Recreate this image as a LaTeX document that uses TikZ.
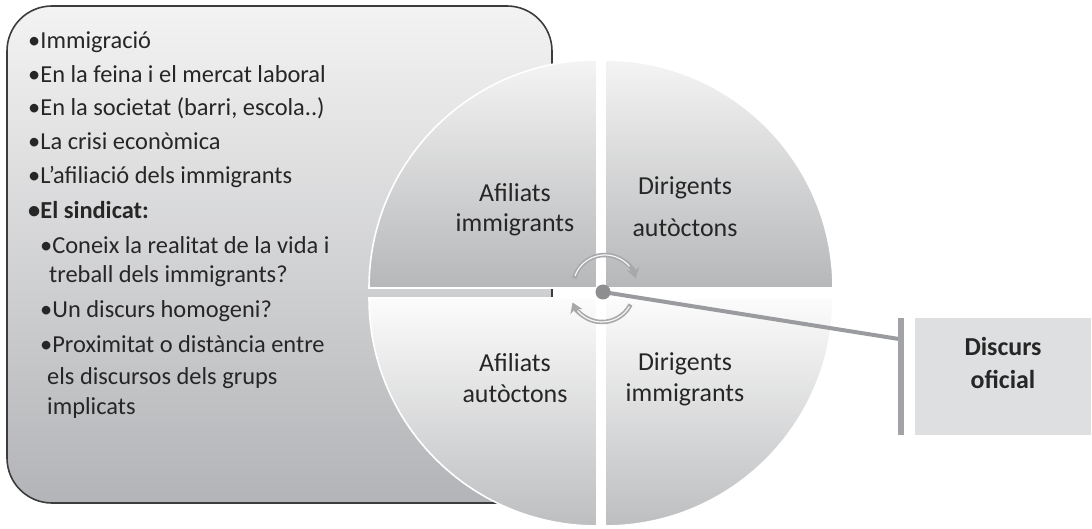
\documentclass[tikz,border=0pt]{standalone}
\usepackage{fontspec}
\setmainfont{Carlito}
\usetikzlibrary{arrows.meta}
\definecolor{txt}{HTML}{262626}
\definecolor{boxtop}{HTML}{F3F3F3}
\definecolor{boxbot}{HTML}{B3B4B7}
\definecolor{boxline}{HTML}{3C3C3C}
\definecolor{qtopA}{HTML}{F4F4F4}
\definecolor{qtopB}{HTML}{B6B7B9}
\definecolor{qbotA}{HTML}{FCFCFC}
\definecolor{qbotB}{HTML}{BDBEC0}
\definecolor{rotc}{HTML}{A8A8AA}
\definecolor{dotc}{HTML}{8E8E90}
\definecolor{connc}{HTML}{9A9B9F}
\definecolor{barc}{HTML}{A2A3A7}
\definecolor{dboxc}{HTML}{DEDFE1}
\tikzset{
  item/.style={anchor=base west, inner sep=0pt, text=txt, font=\fontsize{24.5}{30}\selectfont},
  qlab/.style={anchor=base, inner sep=0pt, text=txt, align=center, font=\fontsize{26}{31}\selectfont},
  dlab/.style={anchor=base, inner sep=0pt, text=txt, align=center, font=\fontsize{26}{33}\selectfont\bfseries},
  rim/.style={draw=white, line width=1.6bp},
  rot/.style={draw=rotc, line width=4.5bp, -{Stealth[length=10bp,width=13bp]}},
  rothl/.style={draw=white, line width=1.2bp, opacity=0.9},
  conn/.style={draw=connc, line width=4bp}
}
\begin{document}
\begin{tikzpicture}[x=1bp,y=-1bp]
\useasboundingbox (0,0) rectangle (1092,529);
% left rounded box
\shade[top color=boxtop, bottom color=boxbot, rounded corners=45bp] (7,6) rectangle (552,503);
\draw[boxline, line width=1.6bp, rounded corners=45bp] (7,6) rectangle (552,503);
% text lines
\node[item] (l1) at (28,49) {•Immigració};
\node[item] (l2) at (28,83) {•En la feina i el mercat laboral};
\node[item] (l3) at (28,116) {•En la societat (barri, escola..)};
\node[item] (l4) at (28,150) {•La crisi econòmica};
\node[item] (l5) at (28,184) {•L'afiliació dels immigrants};
\node[item, font=\fontsize{24.5}{30}\selectfont\bfseries] (l6) at (28,219) {•El sindicat:};
\node[item] (l7) at (40,254) {•Coneix la realitat de la vida i};
\node[item] (l8) at (49,283) {treball dels immigrants?};
\node[item] (l9) at (40,318) {•Un discurs homogeni?};
\node[item] (l10) at (40,353) {•Proximitat o distància entre};
\node[item] (l11) at (47,385) {els discursos dels grups};
\node[item] (l12) at (47,414) {implicats};
% quadrants
\shade[top color=qtopA, bottom color=qtopB] (597,288) -- (369,288) arc[start angle=180, end angle=270, radius=228] -- cycle;
\draw[rim] (597,288) -- (369,288) arc[start angle=180, end angle=270, radius=228] -- cycle;
\shade[top color=qtopA, bottom color=qtopB] (605,288) -- (605,60) arc[start angle=270, end angle=360, radius=228] -- cycle;
\draw[rim] (605,288) -- (605,60) arc[start angle=270, end angle=360, radius=228] -- cycle;
\shade[top color=qbotA, bottom color=qbotB] (597,298) -- (597,526) arc[start angle=90, end angle=180, radius=228] -- cycle;
\draw[rim] (597,298) -- (597,526) arc[start angle=90, end angle=180, radius=228] -- cycle;
\shade[top color=qbotA, bottom color=qbotB] (605,298) -- (833,298) arc[start angle=0, end angle=90, radius=228] -- cycle;
\draw[rim] (605,298) -- (833,298) arc[start angle=0, end angle=90, radius=228] -- cycle;
% quadrant labels (base = last line)
\node[qlab] (qa) at (515,232) {Afiliats\\immigrants};
\node[qlab] (qb) at (685,237) {Dirigents\\[12bp]autòctons};
\node[qlab] (qc) at (515,402) {Afiliats\\autòctons};
\node[qlab] (qd) at (685,401) {Dirigents\\immigrants};
% rotating arrows
\draw[rot] (605,287) ++(-164:32) arc[start angle=-164, end angle=-16, radius=32];
\draw[rothl] (605,287) ++(-160:32) arc[start angle=-160, end angle=-40, radius=32];
\draw[rot] (602,290) ++(27:32) arc[start angle=27, end angle=157, radius=32];
\draw[rothl] (602,290) ++(31:32) arc[start angle=31, end angle=140, radius=32];
% connector
\coordinate (hubc) at (603,292);
\coordinate (hit) at (899,339);
\draw[conn] (hubc) -- (hit);
\node[circle, fill=dotc, inner sep=0pt, minimum size=15bp] (hub) at (hubc) {};
\node[fill=barc, inner sep=0pt, minimum width=6bp, minimum height=117bp] (bar) at (901,376.5) {};
% Discurs oficial
\node[fill=dboxc, inner sep=0pt, minimum width=176bp, minimum height=117bp, anchor=north west] (disc) at (915,318) {};
\node[dlab] (dtext) at (1003,388) {Discurs\\oficial};
\end{tikzpicture}
\end{document}
